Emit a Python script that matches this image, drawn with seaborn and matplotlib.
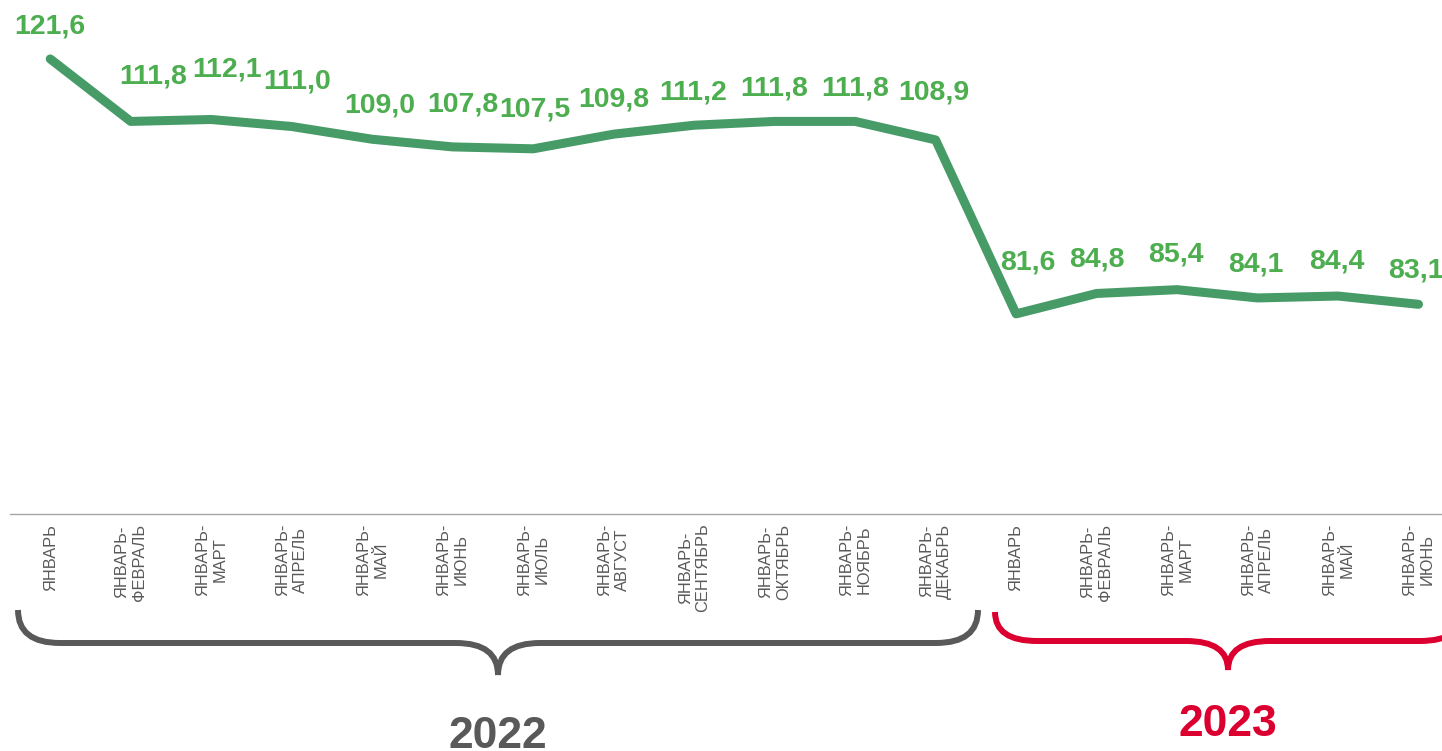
import numpy as np
import pandas as pd
import seaborn as sns
import matplotlib.pyplot as plt
from matplotlib.path import Path
from matplotlib.patches import PathPatch

# Данные
months_2022 = ["ЯНВАРЬ", "ЯНВАРЬ-\nФЕВРАЛЬ", "ЯНВАРЬ-\nМАРТ", "ЯНВАРЬ-\nАПРЕЛЬ",
               "ЯНВАРЬ-\nМАЙ", "ЯНВАРЬ-\nИЮНЬ", "ЯНВАРЬ-\nИЮЛЬ", "ЯНВАРЬ-\nАВГУСТ",
               "ЯНВАРЬ-\nСЕНТЯБРЬ", "ЯНВАРЬ-\nОКТЯБРЬ", "ЯНВАРЬ-\nНОЯБРЬ", "ЯНВАРЬ-\nДЕКАБРЬ"]
months_2023 = ["ЯНВАРЬ", "ЯНВАРЬ-\nФЕВРАЛЬ", "ЯНВАРЬ-\nМАРТ", "ЯНВАРЬ-\nАПРЕЛЬ",
               "ЯНВАРЬ-\nМАЙ", "ЯНВАРЬ-\nИЮНЬ"]
values_2022 = [121.6, 111.8, 112.1, 111.0, 109.0, 107.8, 107.5, 109.8, 111.2, 111.8, 111.8, 108.9]
values_2023 = [81.6, 84.8, 85.4, 84.1, 84.4, 83.1]
years = ["2022", "2023"]

# Смещения подписей значений (в пикселях), как в исходной картинке
label_dx = [0, 22, 16, 5, 8, 10, 2, 0, -1, 0, 0, -2, 12, 0, -1, -2, -1, -3]
label_dy = [32, 45, 50, 45, 34, 42, 39, 35, 33, 33, 33, 47, 51, 34, 35, 33, 35, 34]

labels = months_2022 + months_2023
df = pd.DataFrame({"pos": np.arange(len(labels)), "value": values_2022 + values_2023})

sns.set_style("white")
plt.rcParams["font.family"] = ["Liberation Sans", "DejaVu Sans"]

line_color = "#469b67"
label_color = "#4cae4f"
gray = "#595959"
red = "#dc0030"

W, H = 1442, 751
fig = plt.figure(figsize=(W / 100, H / 100), dpi=100)
ax = fig.add_axes([10 / W, (H - 514) / H, 1 - 10 / W, 514 / H])

sns.lineplot(data=df, x="pos", y="value", ax=ax, color=line_color, linewidth=6.5,
             solid_capstyle="round", solid_joinstyle="round")

for p, v, dx, dy in zip(df["pos"], df["value"], label_dx, label_dy):
    ax.annotate(f"{v:.1f}".replace(".", ","), (p, v), xytext=(dx, dy),
                textcoords="offset pixels", ha="center", va="center",
                fontsize=20.5, fontweight="bold", color=label_color)

ax.set_xlim(-0.5, (W - 50) / 80.5)
ax.set_ylim(50.2, 130.85)
ax.set_xticks(df["pos"])
ax.set_xticklabels(labels, rotation=90, fontsize=11.8, color=gray, va="top", ha="center")
ax.tick_params(axis="x", length=0, pad=7)
ax.set_yticks([])
ax.set_xlabel("")
ax.set_ylabel("")
for s in ["top", "left", "right"]:
    ax.spines[s].set_visible(False)
ax.spines["bottom"].set_color("#a6a6a6")
ax.spines["bottom"].set_linewidth(1)

# Фигурные скобки с подписями годов
ov = fig.add_axes([0, 0, 1, 1])
ov.set_xlim(0, W)
ov.set_ylim(H, 0)
ov.axis("off")


def brace(x0, x1, xc, ytop, ymid, ybot, r, color):
    verts = [(x0, ytop), (x0, ymid), (x0 + r, ymid),
             (xc - r, ymid),
             (xc, ymid), (xc, ybot),
             (xc, ymid), (xc + r, ymid),
             (x1 - r, ymid),
             (x1, ymid), (x1, ytop)]
    codes = [Path.MOVETO, Path.CURVE3, Path.CURVE3,
             Path.LINETO,
             Path.CURVE3, Path.CURVE3,
             Path.CURVE3, Path.CURVE3,
             Path.LINETO,
             Path.CURVE3, Path.CURVE3]
    ov.add_patch(PathPatch(Path(verts, codes), facecolor="none", edgecolor=color,
                           linewidth=4.3, capstyle="butt"))


brace(18, 978, 498, 610, 643, 675, 42, gray)
brace(995, 1462, 1228, 612, 641, 670, 42, red)

ov.text(498, 737, years[0], ha="center", va="center", fontsize=32,
        fontweight="bold", color=gray)
ov.text(1228, 724, years[1], ha="center", va="center", fontsize=32,
        fontweight="bold", color=red)

fig.savefig("out.png", dpi=100)
